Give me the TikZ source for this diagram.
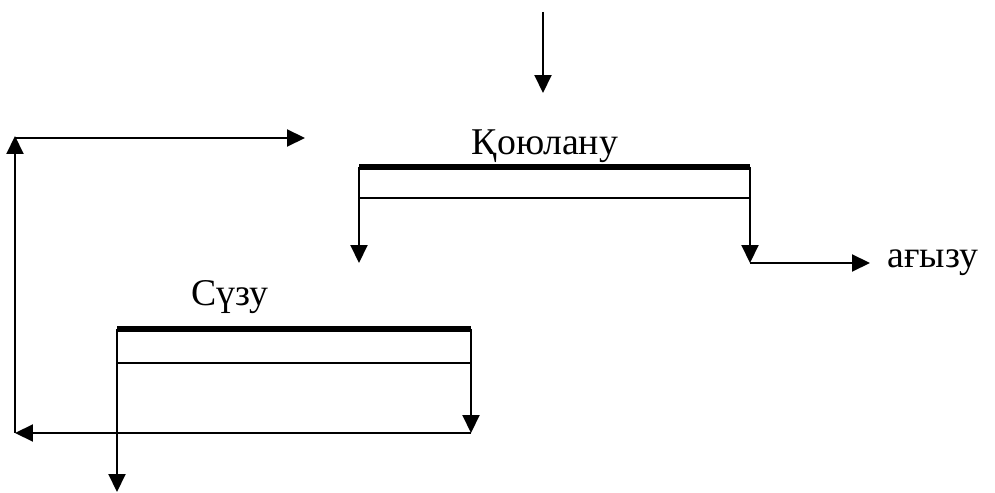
\documentclass[tikz,border=0pt]{standalone}
\usepackage{fontspec}
\setmainfont{Liberation Serif}
\usetikzlibrary{arrows.meta}

\begin{document}
\begin{tikzpicture}[x=0.02cm,y=-0.02cm,
    flow/.style={-{Triangle[length=3.6mm,width=3.4mm]},line width=1.2pt},
    pipe/.style={line width=1.1pt},
    belt/.style={line width=3pt},
    lbl/.style={font=\fontsize{21.5}{25}\selectfont,inner sep=0pt}
  ]
    \useasboundingbox (0,0) rectangle (995,493);

    % thickener
    \coordinate (thtl) at (359,167);
    \coordinate (thtr) at (750,167);
    \coordinate (thml) at (359,198);
    \coordinate (thmr) at (750,198);
    \coordinate (thout) at (359,263);
    \coordinate (thover) at (750,263);
    \coordinate (feedtop) at (543,12);
    \coordinate (feedend) at (543,93);
    \coordinate (drain) at (870,263);
    \node[lbl] (thick) at (545,146) {Қоюлану};
    \node[lbl,anchor=west] (drainlbl) at (887,263) {ағызу};

    % filter
    \coordinate (ftl) at (117,329);
    \coordinate (ftr) at (471,329);
    \coordinate (fml) at (117,363);
    \coordinate (fmr) at (471,363);
    \coordinate (fcake) at (117,492);
    \coordinate (ffilt) at (471,433);
    \coordinate (retbl) at (15,433);
    \coordinate (rettl) at (15,136);
    \coordinate (retend) at (305,138);
    \node[lbl] (filt) at (230,297) {Сүзу};

    \draw[flow] (feedtop) -- (feedend);
    \draw[belt] (thtl) -- (thtr);
    \draw[pipe] (thml) -- (thmr);
    \draw[flow] (thtl) -- (thout);
    \draw[flow] (thtr) -- (thover);
    \draw[flow] (thover) -- (drain);

    \draw[belt] (ftl) -- (ftr);
    \draw[pipe] (fml) -- (fmr);
    \draw[flow] (ftl) -- (fcake);
    \draw[flow] (ftr) -- (ffilt);
    \draw[flow] (ffilt) -- (retbl);
    \draw[flow] (retbl) -- (rettl);
    \draw[flow] (rettl |- retend) -- (retend);
  \end{tikzpicture}
\end{document}
